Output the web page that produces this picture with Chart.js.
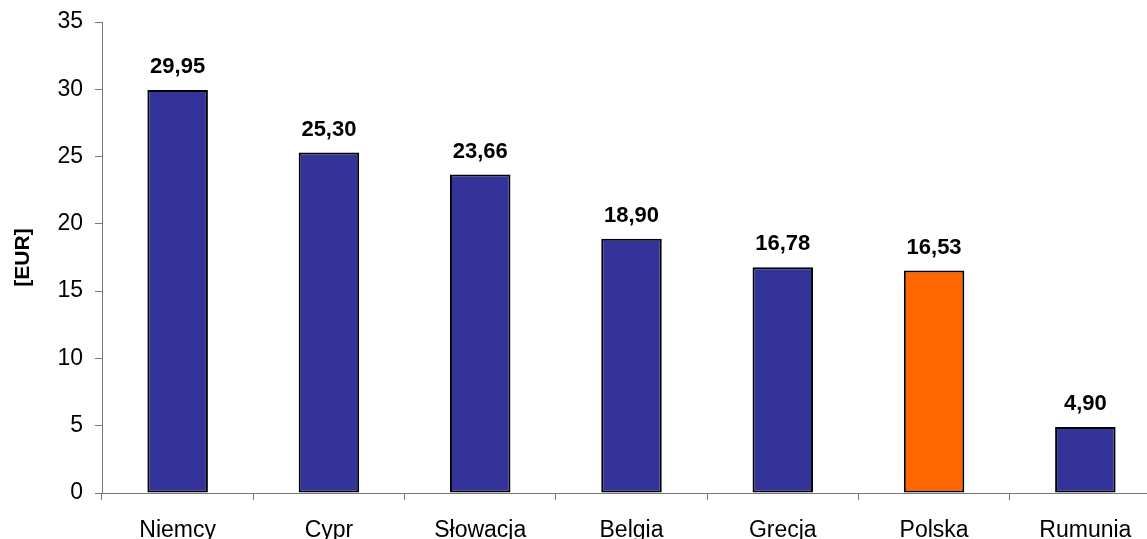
<!DOCTYPE html>
<html>
<head>
<meta charset="utf-8">
<script src="https://cdn.jsdelivr.net/npm/chart.js@4.4.0/dist/chart.umd.min.js"></script>
<style>
  html, body { margin: 0; padding: 0; background: #fff; overflow: hidden; }
  #wrap { width: 1147px; height: 539px; overflow: hidden; position: relative; }
  canvas { position: absolute; left: 0; top: 0; }
</style>
</head>
<body>
<div id="wrap"><canvas id="myChart" width="1175" height="560"></canvas></div>
<script>
// chart data
const countries = ['Niemcy', 'Cypr', 'Słowacja', 'Belgia', 'Grecja', 'Polska', 'Rumunia'];
const values = [29.95, 25.30, 23.66, 18.90, 16.78, 16.53, 4.90];
const barColors = ['#333399', '#333399', '#333399', '#333399', '#333399', '#FF6600', '#333399'];
const yTicks = [0, 5, 10, 15, 20, 25, 30, 35];

// values printed above the bars, with a decimal comma
const valueLabels = {
  id: 'valueLabels',
  afterDatasetsDraw(chart) {
    const ctx = chart.ctx;
    const meta = chart.getDatasetMeta(0);
    ctx.save();
    ctx.font = 'bold 22px "Liberation Sans", Arial, sans-serif';
    ctx.fillStyle = '#000';
    ctx.textAlign = 'center';
    ctx.textBaseline = 'alphabetic';
    meta.data.forEach((bar, i) => {
      ctx.fillText(values[i].toFixed(2).replace('.', ','), bar.x, bar.y - 17);
    });
    ctx.restore();
  }
};

const config = {
  type: 'bar',
  data: {
    labels: countries,
    datasets: [{
      data: values,
      backgroundColor: barColors,
      borderColor: '#000',
      borderWidth: 2,
      borderSkipped: false,
      barPercentage: 0.4,
      categoryPercentage: 1.0
    }]
  },
  options: {
    responsive: false,
    animation: false,
    layout: { padding: { top: 22, right: 14, bottom: 0, left: 11 } },
    plugins: {
      legend: { display: false },
      tooltip: { enabled: false }
    },
    scales: {
      x: {
        grid: {
          display: true,
          drawOnChartArea: false,
          drawTicks: true,
          tickLength: 7,
          color: '#777'
        },
        border: { color: '#777', width: 1 },
        ticks: {
          color: '#000',
          padding: 17,
          maxRotation: 0,
          font: { family: '"Liberation Sans", Arial, sans-serif', size: 23 }
        },
        afterFit(scale) { scale.height = 67; scale.paddingLeft = 0; scale.paddingRight = 0; }
      },
      y: {
        min: 0,
        max: 35,
        afterBuildTicks(scale) { scale.ticks = yTicks.map(v => ({ value: v })); },
        grid: {
          display: true,
          drawOnChartArea: false,
          drawTicks: true,
          tickLength: 7,
          color: '#777'
        },
        border: { color: '#777', width: 1 },
        ticks: {
          color: '#000',
          padding: 12,
          font: { family: '"Liberation Sans", Arial, sans-serif', size: 23 }
        },
        title: {
          display: true,
          text: '[EUR]',
          color: '#000',
          padding: { top: 0, bottom: 6 },
          font: { family: '"Liberation Sans", Arial, sans-serif', size: 21, weight: 'bold' }
        },
        afterFit(scale) { scale.width = 91; scale.paddingTop = 0; scale.paddingBottom = 0; }
      }
    }
  },
  plugins: [valueLabels]
};

const myChart = new Chart(document.getElementById('myChart'), config);
</script>
</body>
</html>
